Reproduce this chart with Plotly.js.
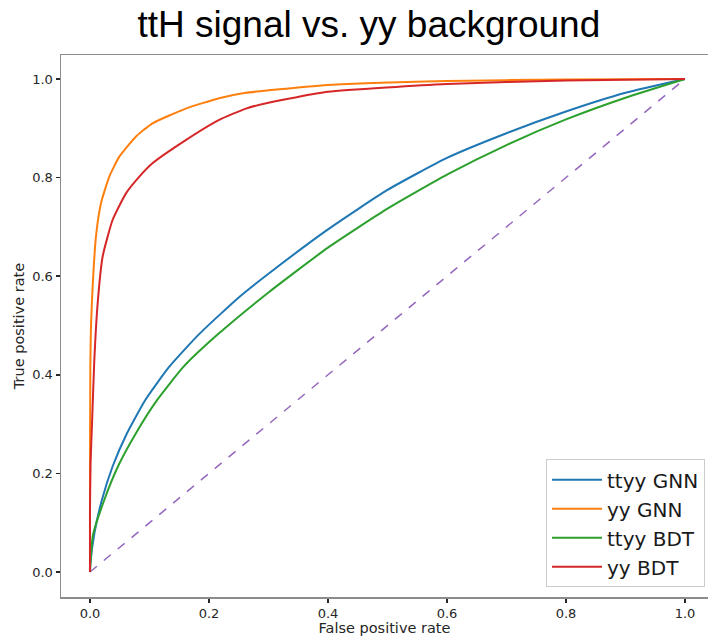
<!DOCTYPE html>
<html>
<head>
<meta charset="utf-8">
<script src="https://cdn.plot.ly/plotly-3.0.1.min.js"></script>
<style>html,body{margin:0;padding:0;background:#fff;}#chart{width:708px;height:636px;}</style>
</head>
<body>
<div id="chart"></div>
<script>
// ROC curves
const seriesNames = ["ttyy GNN", "yy GNN", "ttyy BDT", "yy BDT"];
const ttyyGnnFpr = [0, 0.0005, 0.0073, 0.02, 0.038, 0.062, 0.093, 0.133, 0.183, 0.25, 0.3, 0.4, 0.5, 0.6, 0.7, 0.8, 0.9, 1.0];
const ttyyGnnTpr = [0, 0.015, 0.078, 0.146, 0.214, 0.281, 0.349, 0.416, 0.482, 0.557, 0.605, 0.695, 0.775, 0.84, 0.89, 0.934, 0.972, 1.0];
const yyGnnFpr = [0, 0, 0.0006, 0.0017, 0.0045, 0.010, 0.0185, 0.0325, 0.049, 0.077, 0.105, 0.161, 0.217, 0.262, 0.3, 0.4, 0.6, 0.8, 1.0];
const yyGnnTpr = [0, 0.2, 0.416, 0.50, 0.579, 0.680, 0.748, 0.802, 0.842, 0.883, 0.910, 0.940, 0.961, 0.972, 0.977, 0.988, 0.996, 0.999, 1.0];
const ttyyBdtFpr = [0, 0.0005, 0.005, 0.024, 0.047, 0.077, 0.113, 0.157, 0.213, 0.3, 0.4, 0.5, 0.6, 0.7, 0.8, 0.9, 1.0];
const ttyyBdtTpr = [0, 0.012, 0.075, 0.146, 0.214, 0.281, 0.349, 0.416, 0.48, 0.567, 0.658, 0.737, 0.806, 0.866, 0.918, 0.962, 1.0];
const yyBdtFpr = [0, 0, 0.001, 0.0034, 0.0073, 0.0129, 0.0213, 0.038, 0.0605, 0.083, 0.105, 0.161, 0.217, 0.262, 0.3, 0.4, 0.6, 0.8, 1.0];
const yyBdtTpr = [0, 0.12, 0.22, 0.30, 0.43, 0.545, 0.640, 0.714, 0.768, 0.802, 0.829, 0.876, 0.917, 0.940, 0.952, 0.974, 0.99, 0.997, 1.0];
const chanceX = [0, 1];
const chanceY = [0, 1];
const tickVals = [0.0, 0.2, 0.4, 0.6, 0.8, 1.0];
const tickText = ["0.0", "0.2", "0.4", "0.6", "0.8", "1.0"];

const colors = ["#1f77b4", "#ff7f0e", "#2ca02c", "#d62728"];
const xs = [ttyyGnnFpr, yyGnnFpr, ttyyBdtFpr, yyBdtFpr];
const ys = [ttyyGnnTpr, yyGnnTpr, ttyyBdtTpr, yyBdtTpr];

const traces = [{
  x: chanceX, y: chanceY, mode: "lines", showlegend: false, hoverinfo: "skip",
  line: {color: "#9467bd", width: 1.5, dash: "dash"}
}];
for (let i = 0; i < seriesNames.length; i++) {
  traces.push({
    x: xs[i], y: ys[i], name: seriesNames[i], mode: "lines",
    legendgroup: "g" + i,
    line: {color: colors[i], width: 2, shape: "spline", smoothing: 0.5}
  });
}

const tickFont = {family: "DejaVu Sans", size: 13, color: "#262626"};
const layout = {
  width: 708, height: 636,
  paper_bgcolor: "#ffffff", plot_bgcolor: "#ffffff",
  margin: {l: 61, r: 0, t: 55, b: 39, pad: 0},
  title: {text: "ttH signal vs. yy background", x: 0.521, xanchor: "center", y: 0.962, yanchor: "middle",
          font: {family: "Liberation Sans", size: 37, color: "#000000"}},
  xaxis: {
    range: [-0.0487, 1.0387], tickvals: tickVals, ticktext: tickText,
    showgrid: false, zeroline: false, showline: true, mirror: true,
    linecolor: "#8c8c8c", linewidth: 1.5, ticks: "outside", ticklen: 4, tickwidth: 1.5, tickcolor: "#262626",
    tickfont: tickFont,
    title: {text: "False positive rate", standoff: 1, font: {family: "DejaVu Sans", size: 14.5, color: "#262626"}}
  },
  yaxis: {
    range: [-0.0507, 1.0487], tickvals: tickVals, ticktext: tickText,
    showgrid: false, zeroline: false, showline: true, mirror: true,
    linecolor: "#8c8c8c", linewidth: 1.5, ticks: "outside", ticklen: 4, tickwidth: 1.5, tickcolor: "#262626",
    tickfont: tickFont,
    title: {text: "True positive rate", standoff: 4, font: {family: "DejaVu Sans", size: 14.5, color: "#262626"}}
  },
  legend: {
    x: 0.9954, xanchor: "right", y: 0.018, yanchor: "bottom",
    bgcolor: "rgba(255,255,255,0.9)", bordercolor: "#cccccc", borderwidth: 1,
    font: {family: "DejaVu Sans", size: 20, color: "#1a1a1a"},
    itemwidth: 50,
    tracegroupgap: 0
  },
  showlegend: true
};

Plotly.newPlot("chart", traces, layout, {displayModeBar: false, staticPlot: true});
</script>
</body>
</html>
